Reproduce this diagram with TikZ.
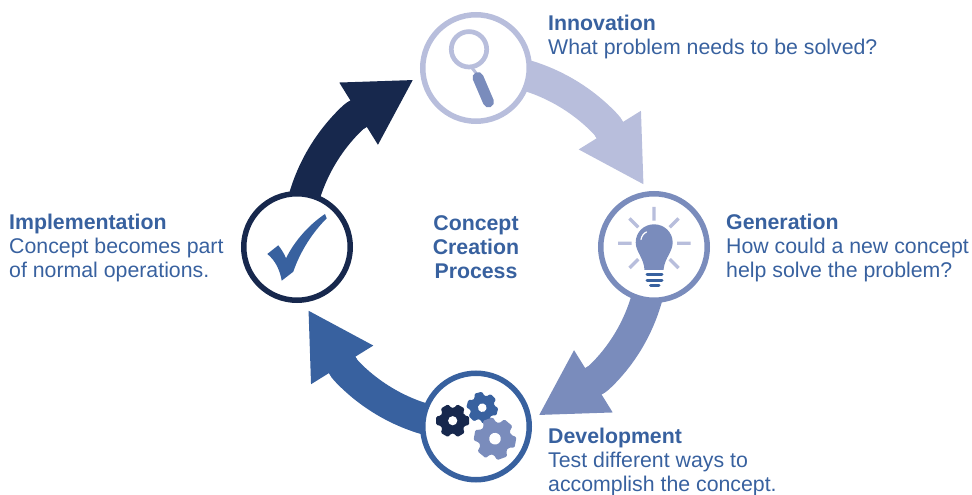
\documentclass[tikz,border=0pt]{standalone}
\usepackage{fontspec}
\setmainfont{Liberation Sans}
\usetikzlibrary{arrows.meta,backgrounds,calc}

\definecolor{lavend}{HTML}{B8BEDC}
\definecolor{steel}{HTML}{7A8CBC}
\definecolor{royal}{HTML}{38619F}
\definecolor{navy}{HTML}{17284D}

\tikzset{
  stage/.style={circle,draw=#1,fill=white,line width=5.5pt,minimum size=106.5pt,inner sep=0pt},
  caption/.style={anchor=north west,inner sep=0pt,align=left,text=royal,font=\fontsize{21.3}{24}\selectfont},
  flow/.style={line width=31pt,line cap=butt,line join=round}
}

\newcommand{\cog}[5]{
\begin{scope}[shift={(#1,#2)},rotate=#4,scale=#3]
\fill[#5,rounded corners=1.2pt](-24:.76)
  \foreach \t in {0,60,...,300}{--(\t-24:.76)--(\t-14:1)--(\t+14:1)--(\t+24:.76)}--cycle;
\fill[white](0,0)circle(.27);
\end{scope}
}

\begin{document}
\begin{tikzpicture}[x=1pt,y=1pt]
\useasboundingbox (-476,-247.5) rectangle (496,247.5);

\node[stage=lavend] (innovation) at (0,179.5) {};
\node[stage=steel] (generation) at (178,0.5) {};
\node[stage=royal] (development) at (0,-179) {};
\node[stage=navy] (implementation) at (-179,0.5) {};

\begin{scope}[on background layer]
\foreach \a/\src/\col/\n [evaluate=\a as \b using \a+133] in {0/innovation/lavend/A,-90/generation/steel/B,-180/development/royal/C,-270/implementation/navy/D}{
\coordinate (neck\n) at (\a+43:179);
\coordinate (tip\n) at (\a+20.7:179);
\draw[flow,draw=\col,-{Triangle[length=63.7pt,width=73.3pt,line width=0pt]}]
  (\src.center) to[out=\a,in=\b,looseness=.889] (neck\n) -- (tip\n);
\draw[flow,draw=\col] (neck\n) -- ($(neck\n)!.25!(tip\n)$);
}
\end{scope}

\node[caption] (innovationtext) at (72,233) {\textbf{Innovation}\\What problem needs to be solved?};
\node[caption] (generationtext) at (250,34) {\textbf{Generation}\\How could a new concept\\help solve the problem?};
\node[caption] (developmenttext) at (72,-180.5) {\textbf{Development}\\Test different ways to\\accomplish the concept.};
\node[caption] (implementationtext) at (-467,34) {\textbf{Implementation}\\Concept becomes part\\of normal operations.};
\node[caption,anchor=center,align=center] (processtext) at (0,0) {\textbf{Concept}\\\textbf{Creation}\\\textbf{Process}};

\begin{scope}[shift={(-476pt,247.5pt)},y=-1pt]
% magnifier
\draw[lavend,line width=4.7pt] (469,49.3) circle (17.7);
\draw[lavend,line width=3pt] (471,66.5)--(476,73);
\draw[steel,line width=11pt,line cap=round] (478,77.5)--(488.5,102);

% bulb
\draw[lavend,line width=3.3pt] (654,207)--(654,220.7) (618,243.3)--(631.7,243.3) (677,243.3)--(690.7,243.3)
  (629.5,218.5)--(638.3,227.3) (678.5,218.5)--(669.7,227.3) (629.5,268)--(638.3,259.2) (678.5,268)--(669.7,259.2);
\fill[steel] (644.5,270) .. controls (644,258) and (635.7,252) .. (635.7,242.5) .. controls (635.7,232) and (644,224.3) .. (654,224.3)
  .. controls (664,224.3) and (672.7,232) .. (672.7,242.5) .. controls (672.7,252) and (664.5,258) .. (663.5,270) -- cycle;
\draw[white,line width=1.2pt,line cap=round] (641,239.5) .. controls (641.5,236) and (644,233) .. (646.5,232);
\draw[royal,line width=3pt,line cap=round] (647,275)--(662,275) (647,280.3)--(662,280.3) (650.5,285.8)--(659,285.8);

% gears
\cog{452.7}{420.7}{17}{0}{navy}
\cog{482.3}{407.7}{16}{-15}{royal}
\cog{495}{438.7}{21.5}{-10}{steel}

% check mark
\fill[royal] (267.3,254) -- (278.3,245.3) .. controls (281,249) and (284,253) .. (286,258.3)
  .. controls (295,240) and (310,224) .. (325,214) -- (326.7,218.3) .. controls (312,233) and (300,252) .. (293.3,271.7)
  -- (281.7,280.7) .. controls (280,270) and (275,260) .. (267.3,254) -- cycle;
\end{scope}
\end{tikzpicture}
\end{document}
